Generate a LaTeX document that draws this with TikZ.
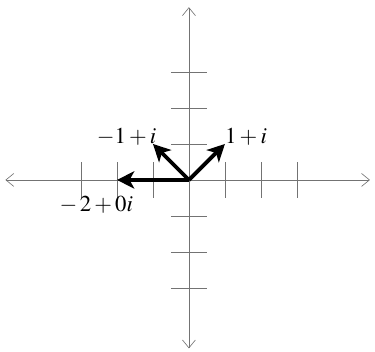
\documentclass[tikz,border=0pt]{standalone}
\usepackage{mathptmx}
\usetikzlibrary{arrows.meta}
\begin{document}
\begin{tikzpicture}[x=1cm,y=1cm,
    axis/.style={draw=black!55, line width=0.5pt},
    axtip/.style={{Straight Barb[length=2.2mm,width=3.6mm]}-{Straight Barb[length=2.2mm,width=3.6mm]}},
    vec/.style={line width=3pt, -{Stealth[length=4.8mm,width=4.8mm,inset=1.3mm]}},
    lbl/.style={inner sep=0pt, font=\fontsize{18}{21}\selectfont}]
  \useasboundingbox (-5.25,-4.78) rectangle (5.17,5.0);
  \coordinate (O) at (0,0);
  \coordinate (xl) at (-5.1,0);
  \coordinate (xr) at (5.03,0);
  \coordinate (yb) at (0,-4.68);
  \coordinate (yt) at (0,4.8);
  \draw[axis, axtip] (xl) -- (xr);
  \draw[axis, axtip] (yb) -- (yt);
  \foreach \k in {-3,-2,-1,1,2,3} {
    \draw[axis] (\k,-0.5) -- (\k,0.5);
    \draw[axis] (-0.5,\k) -- (0.5,\k);
  }
  \coordinate (z1) at (1,1);
  \coordinate (z2) at (-1,1);
  \coordinate (z3) at (-2,0);
  \draw[vec] (O) -- (z1);
  \draw[vec] (O) -- (z2);
  \draw[vec] (O) -- (z3);
  \node[lbl, anchor=base west] (l1) at (z1) {$1+i$};
  \node[lbl, anchor=base east, xshift=0.1cm] (l2) at (z2) {$-1+i$};
  \node[lbl, anchor=north east, xshift=0.45cm, yshift=-0.45cm] (l3) at (z3) {$-\,2+0i$};
\end{tikzpicture}
\end{document}
